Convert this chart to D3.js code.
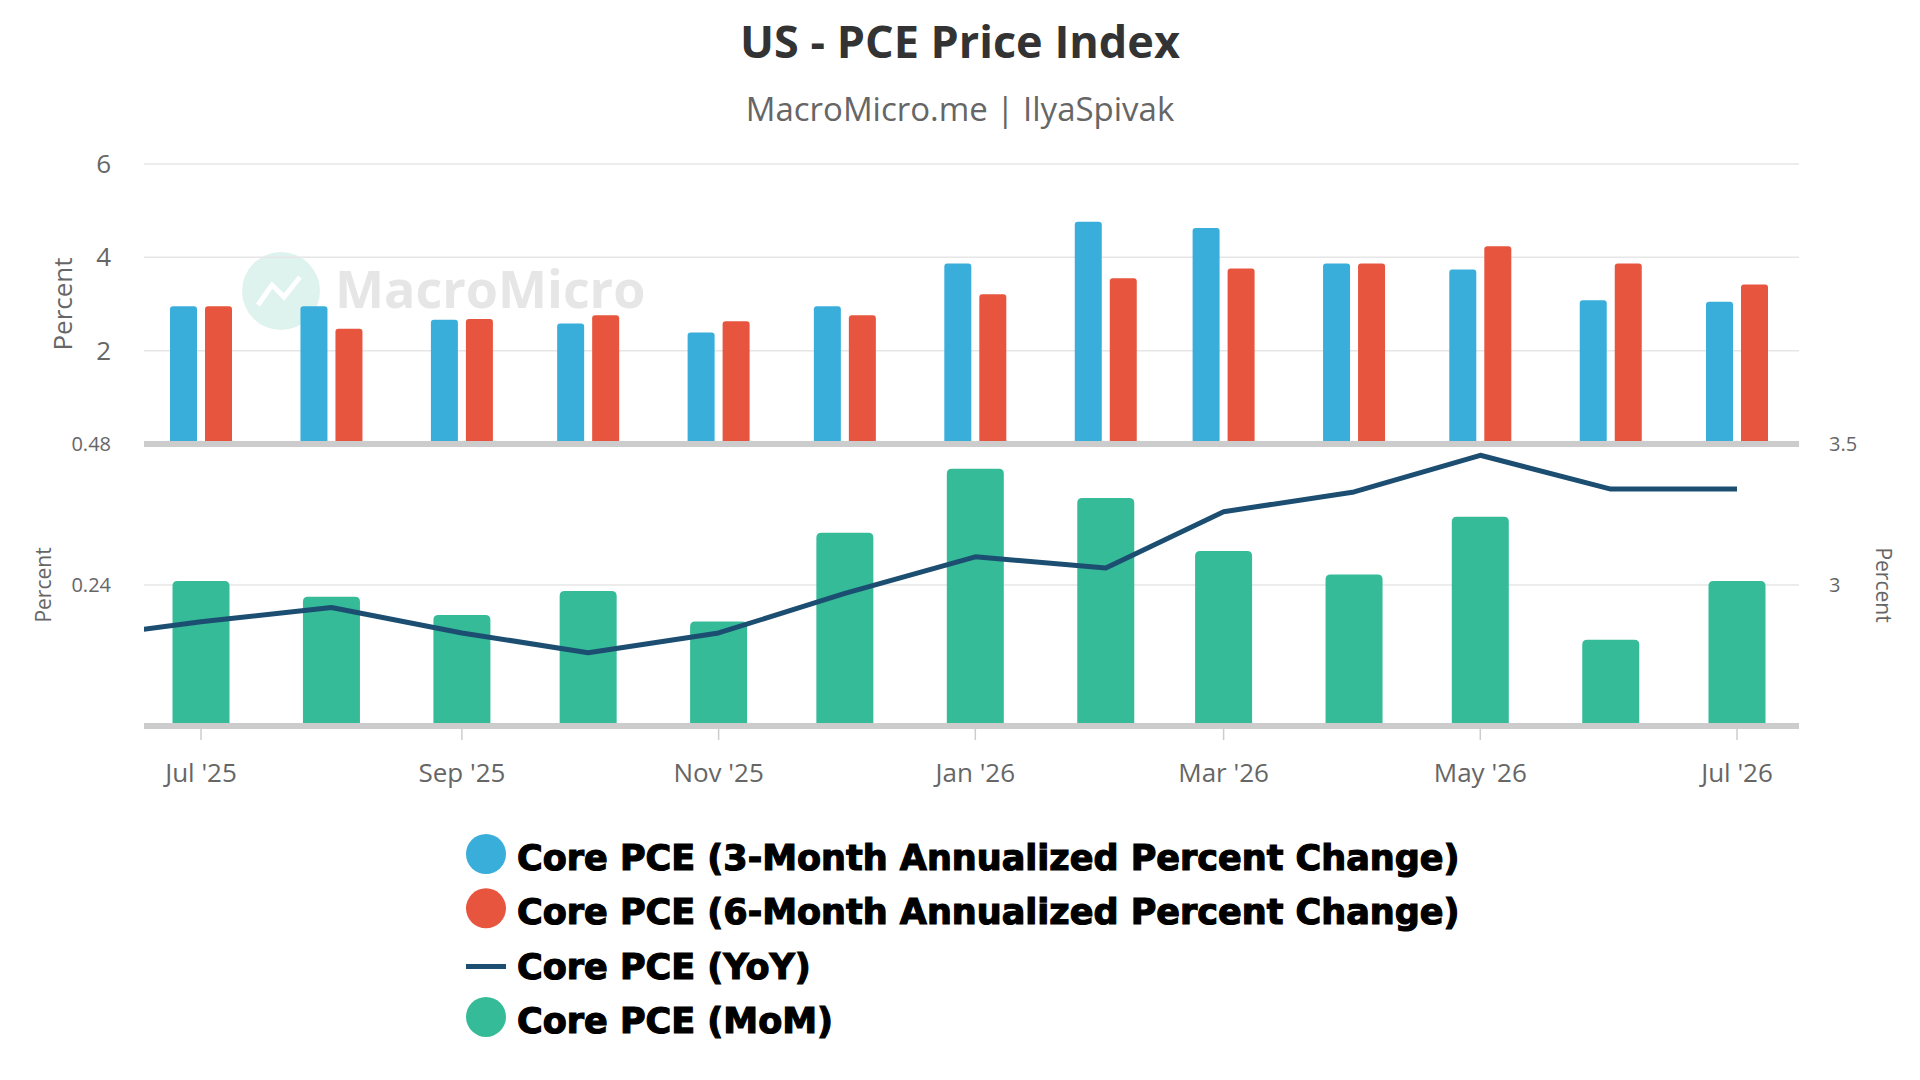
<!DOCTYPE html>
<html><head><meta charset="utf-8">
<script src="https://cdn.jsdelivr.net/npm/d3@7"></script>
<style>body{margin:0;background:#fff}</style></head>
<body><svg id="c" width="1920" height="1080"></svg>
<script>
const months = ["2025-07","2025-08","2025-09","2025-10","2025-11","2025-12","2026-01","2026-02","2026-03","2026-04","2026-05","2026-06","2026-07"];
const core3m = [2.95,2.95,2.66,2.58,2.39,2.95,3.87,4.76,4.63,3.87,3.74,3.08,3.05];
const core6m = [2.95,2.47,2.68,2.76,2.63,2.76,3.21,3.55,3.76,3.87,4.24,3.87,3.42];
const coreMoM = [0.247,0.22,0.189,0.23,0.178,0.329,0.438,0.388,0.298,0.258,0.356,0.147,0.247];
const yoyMonths = ["2025-06","2025-07","2025-08","2025-09","2025-10","2025-11","2025-12","2026-01","2026-02","2026-03","2026-04","2026-05","2026-06","2026-07"];
const coreYoY = [2.81,2.87,2.92,2.83,2.76,2.83,2.97,3.10,3.06,3.26,3.33,3.46,3.34,3.34];
const topTicks = [2,4,6];
const botLeftTicks = [0.24,0.48];
const botRightTicks = [3,3.5];
const xTickMonths = ["2025-07","2025-09","2025-11","2026-01","2026-03","2026-05","2026-07"];
const legendItems = [
 {label:"Core PCE (3-Month Annualized Percent Change)", color:"#3aaedb", type:"circle"},
 {label:"Core PCE (6-Month Annualized Percent Change)", color:"#e8553e", type:"circle"},
 {label:"Core PCE (YoY)", color:"#1c4e72", type:"line"},
 {label:"Core PCE (MoM)", color:"#35bb98", type:"circle"}];

const svg = d3.select("#c");
const parse = d3.timeParse("%Y-%m");
const L=144, R=1799;
const x = d3.scaleTime().domain([parse("2025-07"),parse("2026-07")]).range([201,1737]);
const yTop = d3.scaleLinear().domain([0,6]).range([444,164]);
const yBL = d3.scaleLinear().domain([0,0.48]).range([726,444]);
const yBR = d3.scaleLinear().domain([2.5,3.5]).range([726,444]);
const font = "'Open Sans', 'Noto Sans', sans-serif";

svg.append("text").attr("x",960).attr("y",58).attr("text-anchor","middle").attr("font-family",font)
 .attr("font-weight",700).attr("font-size",45).attr("fill","#333").text("US - PCE Price Index");
svg.append("text").attr("x",960).attr("y",121).attr("text-anchor","middle").attr("font-family",font)
 .attr("font-size",33).attr("fill","#666").text("MacroMicro.me | IlyaSpivak");

// watermark
const wm = svg.append("g");
wm.append("circle").attr("cx",281).attr("cy",291).attr("r",39).attr("fill","#dff3ee");
wm.append("path").attr("d","M258 305 L272 285 L284 297 L300 277").attr("stroke","#fff").attr("stroke-width",5).attr("fill","none");
wm.append("text").attr("x",335).attr("y",308).attr("font-family",font).attr("font-weight",700)
 .attr("font-size",52).attr("fill","#e6e6e6").text("MacroMicro");

// grids
svg.append("g").selectAll("line").data(topTicks).join("line").attr("x1",L).attr("x2",R)
 .attr("y1",d=>yTop(d)).attr("y2",d=>yTop(d)).attr("stroke","#e6e6e6").attr("stroke-width",1.5);
svg.append("line").attr("x1",L).attr("x2",R).attr("y1",yBL(0.24)).attr("y2",yBL(0.24)).attr("stroke","#e6e6e6").attr("stroke-width",1.5);

svg.append("clipPath").attr("id","clp").append("rect").attr("x",L).attr("y",150).attr("width",R-L).attr("height",600);

function rr(x0,y0,w,h,r){return `M${x0},${y0+h}V${y0+r}Q${x0},${y0} ${x0+r},${y0}H${x0+w-r}Q${x0+w},${y0} ${x0+w},${y0+r}V${y0+h}Z`;}
// top bars
const bw=27, gap=8;
const gt = svg.append("g");
gt.selectAll(".b").data(months).join("path").attr("fill","#3aaedb")
 .attr("d",(m,i)=>{const x0=x(parse(m))-gap/2-bw, y0=yTop(core3m[i]); return rr(x0,y0,bw,yTop(0)-y0,3);});
gt.selectAll(".r").data(months).join("path").attr("fill","#e8553e")
 .attr("d",(m,i)=>{const x0=x(parse(m))+gap/2, y0=yTop(core6m[i]); return rr(x0,y0,bw,yTop(0)-y0,3);});

svg.append("rect").attr("x",L).attr("y",yTop(0)-3).attr("width",R-L).attr("height",6).attr("fill","#cccccc");

// bottom bars
const gw=57;
svg.append("g").selectAll("path").data(months).join("path").attr("fill","#35bb98")
 .attr("d",(m,i)=>{const x0=x(parse(m))-gw/2, y0=yBL(coreMoM[i]); return rr(x0,y0,gw,yBL(0)-y0,5);});
svg.append("rect").attr("x",L).attr("y",yBL(0)-3).attr("width",R-L).attr("height",6).attr("fill","#cccccc");

// line
svg.append("path").attr("clip-path","url(#clp)").attr("fill","none").attr("stroke","#1c4e72").attr("stroke-width",5)
 .attr("stroke-linejoin","round")
 .attr("d",d3.line().x((m)=>x(parse(m))).y((m,i)=>yBR(coreYoY[i]))(yoyMonths));

// axes text
const tick = (sel)=>sel.attr("font-family",font).attr("fill","#666");
svg.append("g").selectAll("text").data(topTicks).join("text").call(tick).attr("x",111).attr("y",d=>yTop(d)+9)
 .attr("text-anchor","end").attr("font-size",26).text(d=>d);
svg.append("g").selectAll("text").data(botLeftTicks).join("text").call(tick).attr("x",111).attr("y",d=>yBL(d)+7)
 .attr("text-anchor","end").attr("font-size",20).text(d=>d);
svg.append("g").selectAll("text").data(botRightTicks).join("text").call(tick).attr("x",1829).attr("y",d=>yBR(d)+7)
 .attr("font-size",20).text(d=>d);
svg.append("text").call(tick).attr("transform","translate(72,304) rotate(-90)").attr("text-anchor","middle").attr("font-size",26).text("Percent");
svg.append("text").call(tick).attr("transform","translate(51,585) rotate(-90)").attr("text-anchor","middle").attr("font-size",21).text("Percent");
svg.append("text").call(tick).attr("transform","translate(1876,585) rotate(90)").attr("text-anchor","middle").attr("font-size",21).text("Percent");

const fmt = d3.timeFormat("%b '%y");
const gx = svg.append("g");
gx.selectAll("line").data(xTickMonths).join("line").attr("x1",m=>x(parse(m))).attr("x2",m=>x(parse(m)))
 .attr("y1",yBL(0)+3).attr("y2",yBL(0)+14).attr("stroke","#ccc").attr("stroke-width",1.5);
gx.selectAll("text").data(xTickMonths).join("text").call(tick).attr("x",m=>x(parse(m))).attr("y",782)
 .attr("text-anchor","middle").attr("font-size",26).text(m=>fmt(parse(m)));

// legend
const lg = svg.append("g").selectAll("g").data(legendItems).join("g").attr("transform",(d,i)=>`translate(486,${858+i*54.3})`);
lg.filter(d=>d.type==="circle").append("circle").attr("r",20).attr("cy",-4).attr("fill",d=>d.color);
lg.filter(d=>d.type==="line").append("line").attr("x1",-20).attr("x2",20).attr("y1",0).attr("y2",0).attr("stroke",d=>d.color).attr("stroke-width",5);
lg.append("text").attr("x",31).attr("y",12).attr("font-family","'DejaVu Sans', sans-serif").attr("font-weight",700)
 .attr("font-size",35).attr("fill","#000").attr("stroke","#000").attr("stroke-width",1.2).text(d=>d.label);
</script></body></html>
